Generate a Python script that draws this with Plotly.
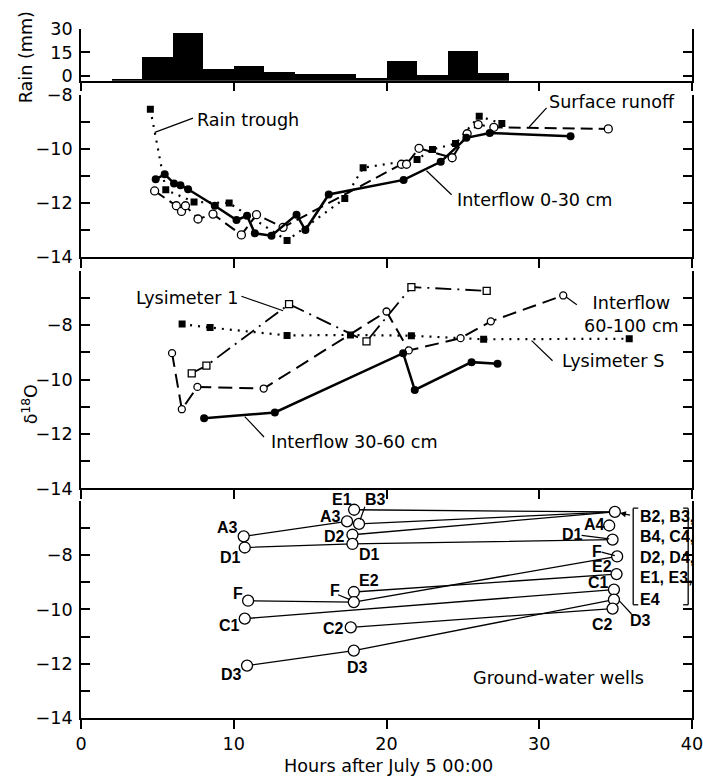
import plotly.graph_objects as go

# ---------------- data ----------------
# Rain (2-hour bins, start hour) and bar top (mm, as read on the axis)
rain_start_h = [2, 4, 6, 8, 10, 12, 14, 16, 18, 20, 22, 24, 26]
rain_top_mm = [-2.1, 12, 27.2, 4.1, 6, 2.6, 1.3, 1.3, -1.3, 9.4, 0.2, 16, 1.5]
RAIN_BASE = -3.2

# Panel 2
rain_trough_h = [4.54, 5.55, 7.40, 9.70, 13.49, 17.27, 18.47, 22.00, 23.01, 24.52, 26.07, 27.55]
rain_trough_d = [-8.52, -11.51, -11.96, -12.0, -13.39, -11.83, -10.69, -10.38, -10.01, -9.79, -8.78, -9.05]

runoff_h = [4.82, 6.24, 6.58, 6.84, 7.66, 8.64, 10.50, 11.49, 13.23, 20.98, 21.31, 22.13,
            24.30, 25.28, 26.00, 27.03, 34.52]
runoff_d = [-11.55, -12.10, -12.31, -12.10, -12.59, -12.41, -13.18, -12.43, -12.9, -10.56, -10.56,
            -9.97, -10.32, -9.43, -9.09, -9.19, -9.25]

if030_h = [4.89, 5.48, 6.09, 6.51, 7.01, 8.76, 10.18, 10.87, 11.38, 12.47, 14.11, 14.69, 16.22,
           21.12, 23.55, 25.23, 26.76, 32.05]
if030_d = [-11.12, -10.93, -11.27, -11.34, -11.49, -12.10, -12.63, -12.47, -13.12, -13.21, -12.43,
           -13.0, -11.68, -11.14, -10.47, -9.58, -9.4, -9.52]

# Panel 3
lys1_h = [7.25, 8.21, 13.62, 18.69, 21.63, 26.56]
lys1_d = [-9.77, -9.49, -7.23, -8.6, -6.6, -6.74]
lysS_h = [6.62, 8.45, 13.49, 17.64, 21.63, 26.36, 35.89]
lysS_d = [-7.96, -8.09, -8.38, -8.36, -8.39, -8.52, -8.5]
if60_h = [5.96, 6.60, 7.62, 11.96, 20.00, 21.46, 24.85, 26.83, 31.57]
if60_d = [-9.03, -11.09, -10.27, -10.33, -7.5, -8.93, -8.48, -7.86, -6.91]
if3060_h = [8.06, 12.69, 21.09, 21.85, 25.57, 27.27]
if3060_d = [-11.42, -11.21, -9.03, -10.38, -9.36, -9.42]

# Panel 4: ground-water wells, three sampling rounds
t1_wells = ["A3", "D1", "F", "C1", "D3"]
t1_h = [10.65, 10.72, 10.94, 10.72, 10.87]
t1_d = [-7.31, -7.72, -9.68, -10.34, -12.07]

t2_wells = ["E1", "A3", "B3", "D2", "D1", "E2", "F", "C2", "D3"]
t2_h = [17.88, 17.42, 18.20, 17.77, 17.77, 17.86, 17.86, 17.66, 17.86]
t2_d = [-6.33, -6.76, -6.85, -7.25, -7.59, -9.36, -9.73, -10.66, -11.52]

t3_wells = ["GROUP", "A4", "D1", "F", "E2", "C1", "D3", "C2"]
t3_h = [34.95, 34.58, 34.80, 35.10, 35.06, 34.89, 34.89, 34.80]
t3_d = [-6.41, -6.91, -7.43, -8.05, -8.70, -9.27, -9.64, -9.97]
group_members = ["E1", "B3", "D2"]   # plotted into the bracketed group point
group_text = ["B2, B3,", "B4, C4,", "D2, D4,", "E1, E3,", "E4"]

# ---------------- layout geometry ----------------
FONT = "DejaVu Sans"
BOLD = "Liberation Sans"
FS = 17.6
W, H = 703, 779
PL, PR, PT, PB = 81.3, 692.0, 29.3, 718.3   # plot box in page pixels
ML, MR = PL, W - PR
MT, MB = PT, H - PB


def py(page_y):
    return (PB - page_y) / (PB - PT)


def px(page_x):
    return (page_x - PL) / (PR - PL)


def dom(top_px, bot_px):
    return [max(0.0, min(1.0, py(bot_px))), max(0.0, min(1.0, py(top_px)))]


fig = go.Figure()

# rain bars
fig.add_trace(go.Bar(
    x=[s + 1 for s in rain_start_h], y=[t - RAIN_BASE for t in rain_top_mm], base=RAIN_BASE,
    width=2, marker=dict(color="black", line=dict(width=0)), xaxis="x", yaxis="y",
    showlegend=False, hoverinfo="skip"))

WHITE_CIRC = dict(symbol="circle", color="white", size=8, line=dict(color="black", width=1.3))
BLACK_CIRC = dict(symbol="circle", color="black", size=8)
BLACK_SQ = dict(symbol="square", color="black", size=7)
WHITE_SQ = dict(symbol="square", color="white", size=7, line=dict(color="black", width=1.3))

# panel 2
fig.add_trace(go.Scatter(x=rain_trough_h, y=rain_trough_d, mode="lines+markers",
                         line=dict(color="black", width=2.2, dash="2px,6px"), marker=BLACK_SQ,
                         xaxis="x2", yaxis="y2", showlegend=False))
fig.add_trace(go.Scatter(x=runoff_h, y=runoff_d, mode="lines+markers",
                         line=dict(color="black", width=2, dash="12px,6px"), marker=WHITE_CIRC,
                         xaxis="x2", yaxis="y2", showlegend=False))
fig.add_trace(go.Scatter(x=if030_h, y=if030_d, mode="lines+markers",
                         line=dict(color="black", width=2.5), marker=BLACK_CIRC,
                         xaxis="x2", yaxis="y2", showlegend=False))

# panel 3
fig.add_trace(go.Scatter(x=lysS_h, y=lysS_d, mode="lines+markers",
                         line=dict(color="black", width=2.2, dash="2px,6px"), marker=BLACK_SQ,
                         xaxis="x3", yaxis="y3", showlegend=False))
fig.add_trace(go.Scatter(x=lys1_h, y=lys1_d, mode="lines+markers",
                         line=dict(color="black", width=1.8, dash="16px,6px,2px,6px"), marker=WHITE_SQ,
                         xaxis="x3", yaxis="y3", showlegend=False))
fig.add_trace(go.Scatter(x=if60_h, y=if60_d, mode="lines+markers",
                         line=dict(color="black", width=2, dash="14px,7px"),
                         marker=dict(WHITE_CIRC, size=7),
                         xaxis="x3", yaxis="y3", showlegend=False))
fig.add_trace(go.Scatter(x=if3060_h, y=if3060_d, mode="lines+markers",
                         line=dict(color="black", width=2.5), marker=BLACK_CIRC,
                         xaxis="x3", yaxis="y3", showlegend=False))

# panel 4: connecting lines per well
pts = {}
for names, hs, ds in [(t1_wells, t1_h, t1_d), (t2_wells, t2_h, t2_d), (t3_wells, t3_h, t3_d)]:
    for n, h, d in zip(names, hs, ds):
        pts.setdefault(n, []).append((h, d))
g = pts["GROUP"][0]
for m in group_members:
    pts[m].append(g)
for n, p in pts.items():
    if n == "GROUP" or len(p) < 2:
        continue
    fig.add_trace(go.Scatter(x=[q[0] for q in p], y=[q[1] for q in p], mode="lines",
                             line=dict(color="black", width=1.3), xaxis="x4", yaxis="y4",
                             showlegend=False, hoverinfo="skip"))
fig.add_trace(go.Scatter(x=t1_h + t2_h + t3_h, y=t1_d + t2_d + t3_d, mode="markers",
                         marker=dict(symbol="circle", color="white", size=11,
                                     line=dict(color="black", width=1.3)),
                         xaxis="x4", yaxis="y4", showlegend=False))

# ---------------- axes ----------------
xcommon = dict(range=[0, 40], showline=True, linecolor="black", linewidth=1.5, ticks="outside",
               ticklen=9, tickwidth=1.5, tickcolor="black", tickvals=[0, 10, 20, 30, 40],
               showgrid=False, zeroline=False, automargin=False, ticklabeloverflow="allow",
               tickfont=dict(family=FONT, size=FS, color="black"))


def ycommon(rng, vals, labels):
    return dict(range=rng, showline=True, linecolor="black", linewidth=1.5, mirror="ticks",
                ticks="inside", ticklen=9, tickwidth=1.5, tickcolor="black", tickvals=vals,
                ticktext=labels, showgrid=False, zeroline=False, ticklabelstandoff=3,
                automargin=False, tickfont=dict(family=FONT, size=FS, color="black"))


def lab(v):
    return "\u2212" + str(abs(v)) if v < 0 else str(v)


d2 = list(range(-14, -7))
d34 = list(range(-14, -5))
fig.update_layout(
    xaxis=dict(xcommon, anchor="y", showticklabels=False),
    xaxis2=dict(xcommon, anchor="y2", matches="x", showticklabels=False),
    xaxis3=dict(xcommon, anchor="y3", matches="x", showticklabels=False),
    xaxis4=dict(xcommon, anchor="y4", matches="x", showticklabels=True),
    yaxis=dict(ycommon([RAIN_BASE, 30], [0, 15, 30], ["0", "15", "30"]), domain=dom(PT, 81),
               anchor="x"),
    yaxis2=dict(ycommon([-14, -8], d2, [lab(v) if v % 2 == 0 else "" for v in d2]),
                domain=dom(95.5, 257.3), anchor="x2"),
    yaxis3=dict(ycommon([-14, -6], d34, [lab(v) if v % 2 == 0 and v != -6 else "" for v in d34]),
                domain=dom(271, 488.7), anchor="x3"),
    yaxis4=dict(ycommon([-14, -6], d34, [lab(v) if v % 2 == 0 and v != -6 else "" for v in d34]),
                domain=dom(501.1, PB), anchor="x4"),
    width=W, height=H, margin=dict(l=ML, r=MR, t=MT, b=MB, autoexpand=False),
    paper_bgcolor="white", plot_bgcolor="white", bargap=0,
    font=dict(family=FONT, size=FS, color="black"),
)

ann = []
shapes = []


def text(x, y, t, ax="x2", ay="y2", xa="left", size=FS, family=FONT, ya="middle"):
    ann.append(dict(x=x, y=y, xref=ax, yref=ay, text=t, showarrow=False, xanchor=xa, yanchor=ya,
                    font=dict(family=family, size=size, color="black")))


def leader(x0, y0, x1, y1, ax="x2", ay="y2", w=1.2):
    shapes.append(dict(type="line", x0=x0, y0=y0, x1=x1, y1=y1, xref=ax, yref=ay,
                       line=dict(color="black", width=w)))


# panel 2 labels
text(7.45, -8.91, "Rain trough")
leader(7.33, -8.85, 4.83, -9.38)
text(30.48, -8.25, "Surface runoff")
leader(30.48, -8.47, 29.34, -9.18)
text(24.47, -11.87, "Interflow 0-30 cm")
leader(24.26, -11.69, 22.62, -10.80)

# panel 3 labels
text(10.39, -7.0, "Lysimeter 1", "x3", "y3", xa="right")
leader(10.50, -6.94, 13.23, -7.47, "x3", "y3")
text(12.31, -12.28, "Interflow 30-60 cm", "x3", "y3")
leader(10.72, -11.36, 11.98, -12.11, "x3", "y3")
text(32.77, -7.62, "Interflow<br>60-100 cm", "x3", "y3")
leader(31.74, -6.96, 32.46, -7.25, "x3", "y3")
text(31.35, -9.33, "Lysimeter S", "x3", "y3")
leader(29.5, -8.57, 30.87, -9.31, "x3", "y3")

# panel 4 well labels
well_labels = [
    (9.57, -7.0, "A3"), (9.78, -8.08, "D1"), (10.28, -9.43, "F"), (9.72, -10.6, "C1"),
    (9.85, -12.38, "D3"),
    (16.34, -6.57, "A3"), (16.61, -7.31, "D2"),
    (18.91, -7.99, "D1"), (18.83, -8.94, "E2"), (16.61, -9.32, "F"), (16.56, -10.69, "C2"),
    (18.09, -12.14, "D3"),
    (33.59, -6.88, "A4"), (32.2, -7.25, "D1"), (33.79, -7.86, "F"), (34.08, -8.42, "E2"),
    (33.88, -9.0, "C1"), (36.62, -10.42, "D3"), (34.13, -10.54, "C2"),
]
for x, y, t in well_labels:
    text(x, y, "<b>" + t + "</b>", "x4", "y4", xa="center", size=16, family=BOLD)
# labels at the very top of the well panel (placed in paper space so they are not clipped)
for x, t in [(17.09, "E1"), (19.29, "B3")]:
    ann.append(dict(x=x, y=py(500), xref="x4", yref="paper", text="<b>" + t + "</b>",
                    showarrow=False, xanchor="center", yanchor="middle",
                    font=dict(family=BOLD, size=16, color="black")))
for i, t in enumerate(group_text):
    text(36.48, [-6.57, -7.31, -8.07, -8.82, -9.64][i], "<b>" + t + "</b>", "x4", "y4",
         size=16, family=BOLD)
leader(18.58, -6.22, 18.28, -6.70, "x4", "y4")
leader(16.83, -9.46, 17.60, -9.64, "x4", "y4")
leader(32.77, -7.27, 34.58, -7.40, "x4", "y4")
leader(34.08, -7.89, 34.95, -8.02, "x4", "y4")
leader(35.23, -9.68, 36.04, -10.17, "x4", "y4")
# brackets
for bx, s in [(36.15, 1), (39.75, -1)]:
    leader(bx, -6.27, bx, -9.83, "x4", "y4", 1.3)
    leader(bx, -6.27, bx + s * 0.33, -6.27, "x4", "y4", 1.3)
    leader(bx, -9.83, bx + s * 0.33, -9.83, "x4", "y4", 1.3)
# arrow to group point
ann.append(dict(x=35.28, y=-6.45, ax=36.04, ay=-6.54, xref="x4", yref="y4", axref="x4", ayref="y4",
                showarrow=True, arrowhead=2, arrowsize=1, arrowwidth=1.2, arrowcolor="black", text=""))
text(31.27, -12.53, "Ground-water wells", "x4", "y4", xa="center")

# axis titles
ann.append(dict(x=px(26), y=py(58), xref="paper", yref="paper",
                text="Rain (mm)", showarrow=False, textangle=-90, xanchor="center",
                yanchor="middle", font=dict(family=FONT, size=FS)))
ann.append(dict(x=px(30), y=py(405), xref="paper", yref="paper",
                text="\u03b4<sup>18</sup>O", showarrow=False, textangle=-90, xanchor="center",
                yanchor="middle", font=dict(family=FONT, size=FS)))
ann.append(dict(x=px(389), y=py(766), xref="paper",
                yref="paper", text="Hours after July 5 00:00", showarrow=False, xanchor="center",
                yanchor="middle", font=dict(family=FONT, size=FS)))

fig.update_layout(annotations=ann, shapes=shapes)
fig.write_html("out.html", config={"displayModeBar": False},
               post_script="document.body.style.margin='0';document.body.style.overflow='hidden';")
